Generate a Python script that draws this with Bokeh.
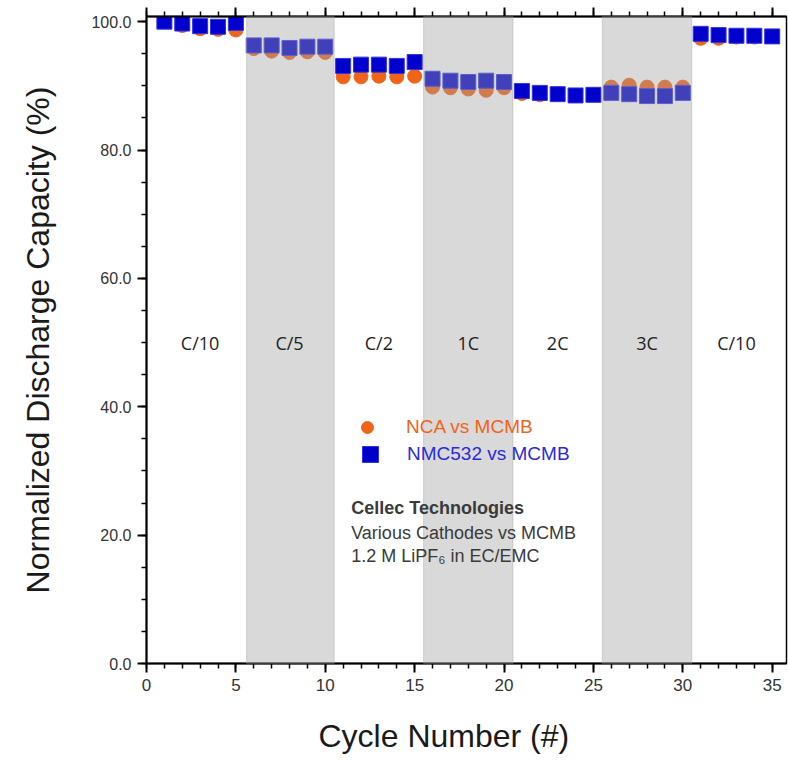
from bokeh.plotting import figure
from bokeh.models import (LinearAxis, FixedTicker, Range1d, BoxAnnotation, Legend, LegendItem,
                          Label, LabelSet, ColumnDataSource, PrintfTickFormatter, Title)
from bokeh.core.properties import value
from bokeh.embed import file_html
from bokeh.resources import INLINE

# ---------------- data ----------------
cycles = list(range(1, 36))
nca_vs_mcmb = [100.0, 99.4, 98.9, 98.8, 98.7,
               95.8, 95.4, 95.2, 95.3, 95.2,
               91.4, 91.4, 91.5, 91.4, 91.5,
               89.8, 89.7, 89.5, 89.3, 89.7,
               88.8, 88.6, 88.8, 88.5, 88.6,
               89.8, 90.1, 89.8, 89.8, 89.8,
               97.4, 97.4, 97.6, 97.6, 97.7]
nmc532_vs_mcmb = [100.0, 99.7, 99.3, 99.2, 99.8,
                  96.3, 96.3, 95.9, 96.1, 96.1,
                  93.1, 93.3, 93.3, 93.1, 93.7,
                  91.1, 90.8, 90.6, 90.8, 90.6,
                  89.2, 88.9, 88.7, 88.5, 88.6,
                  88.9, 88.7, 88.4, 88.4, 88.9,
                  98.1, 97.9, 97.8, 97.8, 97.7]
rate_labels = ["C/10", "C/5", "C/2", "1C", "2C", "3C", "C/10"]
rate_x = [3, 8, 13, 18, 23, 28, 33]
rate_y = [50, 50, 50, 50, 50, 50, 50]
band_left = [5.6, 15.5, 25.5]
band_right = [10.5, 20.5, 30.5]
x_major = [0, 5, 10, 15, 20, 25, 30, 35]
x_minor = list(range(0, 37))
y_major = [0, 20, 40, 60, 80, 100]
y_minor = list(range(0, 101, 5))
note_lines = ["Cellec Technologies", "Various Cathodes vs MCMB", "1.2 M LiPF\u2086 in EC/EMC"]
x_title = "Cycle Number (#)"
y_title = "Normalized Discharge Capacity (%)"

FONT = "Liberation Sans"
ORANGE = "#F0641A"
BLUE = "#0000CC"

p = figure(frame_width=640, frame_height=647, output_backend="svg", toolbar_location=None,
           x_range=Range1d(0, 35.8), y_range=Range1d(0, 100.8),
           min_border_left=146, min_border_right=2, min_border_top=16, min_border_bottom=90)
p.grid.visible = False
p.outline_line_color = "black"
p.outline_line_width = 1.5
p.background_fill_color = "white"
p.border_fill_color = "white"

src = ColumnDataSource(dict(x=cycles, nca=nca_vs_mcmb, nmc=nmc532_vs_mcmb))
r_nca = p.scatter("x", "nca", source=src, marker="circle", size=14,
                  fill_color=ORANGE, line_color=ORANGE)
r_nmc = p.scatter("x", "nmc", source=src, marker="square", size=15,
                  fill_color=BLUE, line_color="#3333E6", line_width=1)

# shaded rate bands drawn over the markers
for l, r in zip(band_left, band_right):
    p.add_layout(BoxAnnotation(left=l, right=r, fill_color="#A0A0A0", fill_alpha=0.4,
                               line_color="#B0B0B0", line_alpha=0.5, line_width=1))

# axes
xax = p.below[0]
yax = p.left[0]

xax.ticker = FixedTicker(ticks=x_major, minor_ticks=x_minor)
xax.major_label_text_font_size = "17px"
xax.major_label_standoff = 6

yax.ticker = FixedTicker(ticks=y_major, minor_ticks=y_minor)
yax.formatter = PrintfTickFormatter(format="%.1f")
yax.axis_label = y_title
yax.major_label_text_font_size = "16px"
yax.axis_label_text_font_size = "32px"
yax.axis_label_standoff = 32
yax.major_label_standoff = 6

top = LinearAxis(ticker=FixedTicker(ticks=x_major, minor_ticks=x_minor),
                 major_label_overrides={t: "" for t in x_major},
                 major_label_text_font_size="10px", major_label_standoff=0)
p.add_layout(top, "above")

for ax in (xax, yax, top):
    ax.axis_line_width = 2
    ax.axis_line_color = "black"
    ax.major_tick_line_width = 2
    ax.minor_tick_line_width = 1.5
    ax.major_tick_line_color = "black"
    ax.minor_tick_line_color = "black"
    ax.major_tick_out = 9
    ax.major_tick_in = 0
    ax.minor_tick_out = 5
    ax.minor_tick_in = 0
    ax.major_label_text_font = FONT
    ax.major_label_text_color = "#333333"
    ax.axis_label_text_font = FONT
    ax.axis_label_text_font_style = "normal"
    ax.axis_label_text_color = "#1a1a1a"

# x-axis title (the reference places it left of the frame centre)
p.add_layout(Title(text=x_title, align="left", offset=172, text_font=FONT,
                   text_font_size="32px", text_font_style="normal", text_color="#1a1a1a",
                   standoff=44), "below")

# rate labels
rsrc = ColumnDataSource(dict(x=rate_x, y=rate_y, t=rate_labels))
p.add_layout(LabelSet(x="x", y="y", text="t", source=rsrc, text_align="center",
                      text_baseline="middle", text_font=value("Open Sans"),
                      text_font_size=value("18px"), text_color=value("#222222")))

# legends (one per series so each label takes its series colour)
leg1 = Legend(items=[LegendItem(label="NCA vs MCMB", renderers=[r_nca])],
              location=(206, 221), glyph_width=30, glyph_height=30, label_standoff=24,
              label_text_color=ORANGE, label_text_font=FONT, label_text_font_size="19px",
              padding=0, margin=0, border_line_color=None, background_fill_alpha=0)
leg2 = Legend(items=[LegendItem(label="NMC532 vs MCMB", renderers=[r_nmc])],
              location=(204, 189), glyph_width=40, glyph_height=40, label_standoff=17,
              label_text_color="#2a2ad6", label_text_font=FONT, label_text_font_size="19px",
              padding=0, margin=0, border_line_color=None, background_fill_alpha=0)
p.add_layout(leg1)
p.add_layout(leg2)

# note
note_y = [24.3, 20.4, 16.7]
for i, (txt, yy) in enumerate(zip(note_lines, note_y)):
    p.add_layout(Label(x=11.45, y=yy, text=txt, text_font=FONT, text_font_size="18px",
                       text_baseline="middle", text_color="#3a3a3a",
                       text_font_style="bold" if i == 0 else "normal"))

open("out.html", "w").write(file_html(p, INLINE))
